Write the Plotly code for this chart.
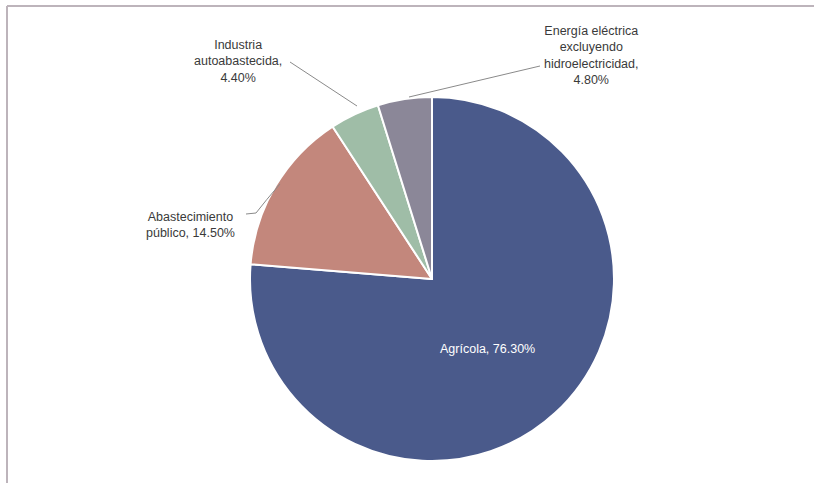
import plotly.graph_objects as go

labels = ["Agrícola", "Abastecimiento público", "Industria autoabastecida",
          "Energía eléctrica excluyendo hidroelectricidad"]
values = [76.30, 14.50, 4.40, 4.80]
colors = ["#4a5a8b", "#c3877c", "#9fbda7", "#8b8798"]
label_text = ["Agrícola, 76.30%",
              "Abastecimiento<br>público, 14.50%",
              "Industria<br>autoabastecida,<br>4.40%",
              "Energía eléctrica<br>excluyendo<br>hidroelectricidad,<br>4.80%"]

W, H = 814, 483
cx, cy, r = 432, 279, 182


def px(x):
    return x / W


def py(y):
    return 1 - y / H


fig = go.Figure(go.Pie(
    labels=labels, values=values, sort=False, direction="clockwise",
    rotation=0, marker=dict(colors=colors, line=dict(color="white", width=2)),
    textinfo="none", hoverinfo="label+percent", showlegend=False,
    domain=dict(x=[px(cx - r), px(cx + r)], y=[py(cy + r), py(cy - r)]),
))

font = "Liberation Sans, Arial, sans-serif"
ann_pos = [(487, 349, "white"), (190, 225, "#3a3a3a"), (238, 62, "#3a3a3a"), (591, 55, "#3a3a3a")]
for txt, (x, y, c) in zip(label_text, ann_pos):
    fig.add_annotation(x=px(x), y=py(y), xref="paper", yref="paper", text=txt,
                       showarrow=False, align="center", xanchor="center", yanchor="middle",
                       font=dict(family=font, size=12.5, color=c))

line = dict(color="#8a8a8a", width=1)
fig.add_shape(type="line", xref="paper", yref="paper",
              x0=px(409), y0=py(97), x1=px(540), y1=py(66), line=line)
fig.add_shape(type="line", xref="paper", yref="paper",
              x0=px(290), y0=py(62), x1=px(357), y1=py(106), line=line)
fig.add_shape(type="path", xref="paper", yref="paper",
              path=f"M {px(246)} {py(214)} L {px(256)} {py(213)} Q {px(266)} {py(200)} {px(280)} {py(184)}",
              line=line)
# frame (top and left edges)
frame = dict(color="#bdb4bb", width=2)
fig.add_shape(type="line", xref="paper", yref="paper",
              x0=px(7), y0=py(6), x1=px(814), y1=py(6), line=frame)
fig.add_shape(type="line", xref="paper", yref="paper",
              x0=px(7), y0=py(6), x1=px(7), y1=py(483), line=frame)

fig.update_layout(width=W, height=H, margin=dict(l=0, r=0, t=0, b=0),
                  paper_bgcolor="white", plot_bgcolor="white")
fig.write_html("out.html")
